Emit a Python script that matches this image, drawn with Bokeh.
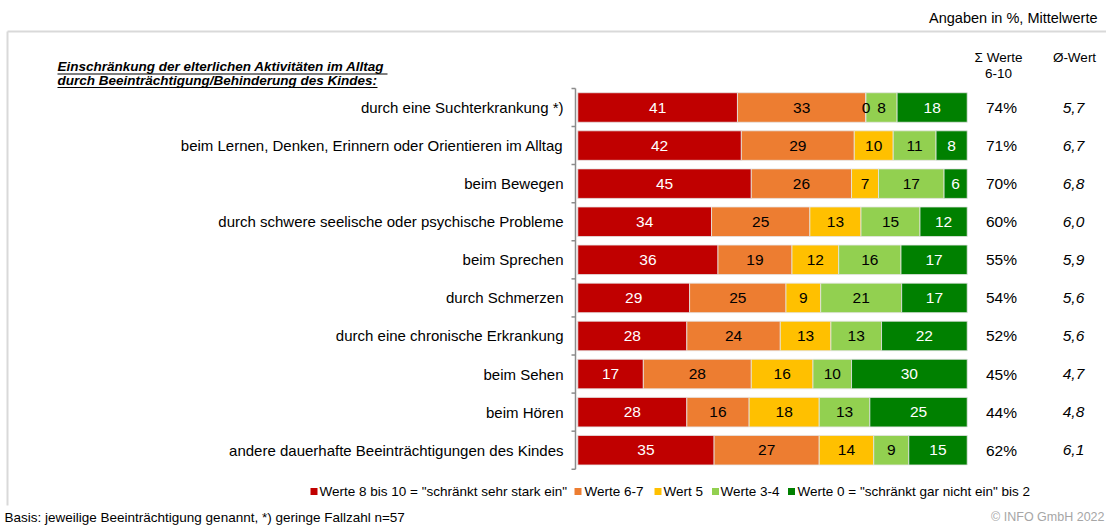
from bokeh.plotting import figure
from bokeh.models import ColumnDataSource, Range1d
from bokeh.core.properties import value
from bokeh.embed import file_html
from bokeh.resources import INLINE

# ---------------- data ----------------
categories = [
    "durch eine Suchterkrankung *)",
    "beim Lernen, Denken, Erinnern oder Orientieren im Alltag",
    "beim Bewegen",
    "durch schwere seelische oder psychische Probleme",
    "beim Sprechen",
    "durch Schmerzen",
    "durch eine chronische Erkrankung",
    "beim Sehen",
    "beim Hören",
    "andere dauerhafte Beeinträchtigungen des Kindes",
]
series_names = [
    'Werte 8 bis 10 = "schränkt sehr stark ein"',
    "Werte 6-7",
    "Wert 5",
    "Werte 3-4",
    'Werte 0 = "schränkt gar nicht ein" bis 2',
]
werte_8_10 = [41, 42, 45, 34, 36, 29, 28, 17, 28, 35]
werte_6_7 = [33, 29, 26, 25, 19, 25, 24, 28, 16, 27]
wert_5 = [0, 10, 7, 13, 12, 9, 13, 16, 18, 14]
werte_3_4 = [8, 11, 17, 15, 16, 21, 13, 10, 13, 9]
werte_0_2 = [18, 8, 6, 12, 17, 17, 22, 30, 25, 15]
summe_6_10 = [74, 71, 70, 60, 55, 54, 52, 45, 44, 62]
mittelwert = [5.7, 6.7, 6.8, 6.0, 5.9, 5.6, 5.6, 4.7, 4.8, 6.1]

title_lines = [
    "Einschränkung der elterlichen Aktivitäten im Alltag",
    "durch Beeinträchtigung/Behinderung des Kindes:",
]
header_sum = ["Σ Werte", "6-10"]
header_avg = "Ø-Wert"
note_top = "Angaben in %, Mittelwerte"
footer = "Basis: jeweilige Beeinträchtigung genannt, *) geringe Fallzahl n=57"
copyright_text = "© INFO GmbH 2022"

# ---------------- style ----------------
colors = ["#C00000", "#ED7D31", "#FFC000", "#92D050", "#008000"]
label_colors = ["white", "black", "black", "black", "white"]
FONT = value("Liberation Sans")
W, H = 1106, 525
OX, OY = 0, 0


def px2x(ix):
    return (ix - 577.3) / 3.894


def px2y(iy):
    return (iy - 107.0) / 38.08


p = figure(
    width=W, height=H,
    x_range=Range1d(px2x(OX), px2x(OX + W)),
    y_range=Range1d(px2y(OY + H), px2y(OY)),
    x_axis_type=None, y_axis_type=None,
    output_backend="svg", toolbar_location=None,
    min_border=0, outline_line_color=None,
)
p.grid.visible = False

rows = list(range(len(categories)))
series = [werte_8_10, werte_6_7, wert_5, werte_3_4, werte_0_2]
totals = [sum(s[i] for s in series) for i in rows]

# stacked bars (normalised to 100 %)
cum = [0.0] * len(rows)
sources = []
for k, s in enumerate(series):
    left = list(cum)
    right = [cum[i] + s[i] * 100.0 / totals[i] for i in rows]
    cum = right
    src = ColumnDataSource(dict(
        y=rows, left=left, right=right,
        mid=[(l + r) / 2 for l, r in zip(left, right)],
        lab=[str(v) for v in s],
    ))
    sources.append(src)
    p.hbar(y="y", left="left", right="right", height=0.775, source=src,
           fill_color=colors[k], line_color="#e4e4e4", line_width=0.8)

for k, src in enumerate(sources):
    p.text(x="mid", y="y", text="lab", source=src, text_align="center",
           text_baseline="middle", text_font=FONT,
           text_font_size=value("15.5px"), text_color=label_colors[k])

# category labels
p.text(x=[px2x(563)] * len(rows), y=rows, text=categories,
       text_align="right", text_baseline="middle", text_font=FONT,
       text_font_size=value("15px"), text_color="black")

# axis line with ticks between categories
p.segment(x0=[px2x(575)], y0=[-0.5], x1=[px2x(575)], y1=[len(rows) - 0.5],
          line_color="#8c8c8c", line_width=1.5)
bounds = [i - 0.5 for i in range(len(rows) + 1)]
p.segment(x0=[px2x(571)] * len(bounds), y0=bounds,
          x1=[px2x(575)] * len(bounds), y1=bounds,
          line_color="#8c8c8c", line_width=1.5)

# right columns
p.text(x=[px2x(1001)] * len(rows), y=rows, text=[f"{v}%" for v in summe_6_10],
       text_align="center", text_baseline="middle", text_font=FONT,
       text_font_size=value("15.5px"), text_color="black")
p.text(x=[px2x(1073)] * len(rows), y=rows,
       text=[f"{v:.1f}".replace(".", ",") for v in mittelwert],
       text_align="center", text_baseline="middle", text_font=FONT,
       text_font_size=value("15.5px"), text_font_style="italic", text_color="black")

# headers
p.text(x=[px2x(998)] * 2, y=[px2y(57), px2y(72.5)], text=header_sum,
       text_align="center", text_baseline="middle", text_font=FONT,
       text_font_size=value("13.5px"), text_color="black")
p.text(x=[px2x(1074)], y=[px2y(57)], text=[header_avg],
       text_align="center", text_baseline="middle", text_font=FONT,
       text_font_size=value("13.5px"), text_color="black")

# top note
p.text(x=[px2x(1097)], y=[px2y(17)], text=[note_top],
       text_align="right", text_baseline="middle", text_font=FONT,
       text_font_size=value("14.5px"), text_color="black")

# frame lines
p.segment(x0=[px2x(7), px2x(7)], y0=[px2y(31), px2y(31)],
          x1=[px2x(1110), px2x(7)], y1=[px2y(31), px2y(505)],
          line_color="#d9d9d9", line_width=2)

# title with underline
p.text(x=[px2x(57)] * 2, y=[px2y(66), px2y(79.5)], text=title_lines,
       text_align="left", text_baseline="middle", text_font=FONT,
       text_font_size=value("13.5px"), text_font_style="bold italic",
       text_color="black")
p.segment(x0=[px2x(57), px2x(57)], y0=[px2y(73.5), px2y(87)],
          x1=[px2x(387), px2x(377)], y1=[px2y(73.5), px2y(87)],
          line_color="black", line_width=1)

# legend
leg_sq = [313.5, 577.5, 657.5, 715, 791]
leg_tx = [319, 584, 663, 720, 797]
p.scatter(x=[px2x(v) for v in leg_sq], y=[px2y(491)] * 5, marker="square",
          size=7, fill_color=colors, line_color=None)
p.text(x=[px2x(v) for v in leg_tx], y=[px2y(491)] * 5, text=series_names,
       text_align="left", text_baseline="middle", text_font=FONT,
       text_font_size=value("13.5px"), text_color="black")

# footer
p.text(x=[px2x(4)], y=[px2y(517)], text=[footer], text_align="left",
       text_baseline="middle", text_font=FONT, text_font_size=value("13.5px"),
       text_color="black")
p.text(x=[px2x(1104)], y=[px2y(516)], text=[copyright_text], text_align="right",
       text_baseline="middle", text_font=FONT, text_font_size=value("12.5px"),
       text_color="#a6a6a6")

open("out.html", "w").write(file_html(p, INLINE))
